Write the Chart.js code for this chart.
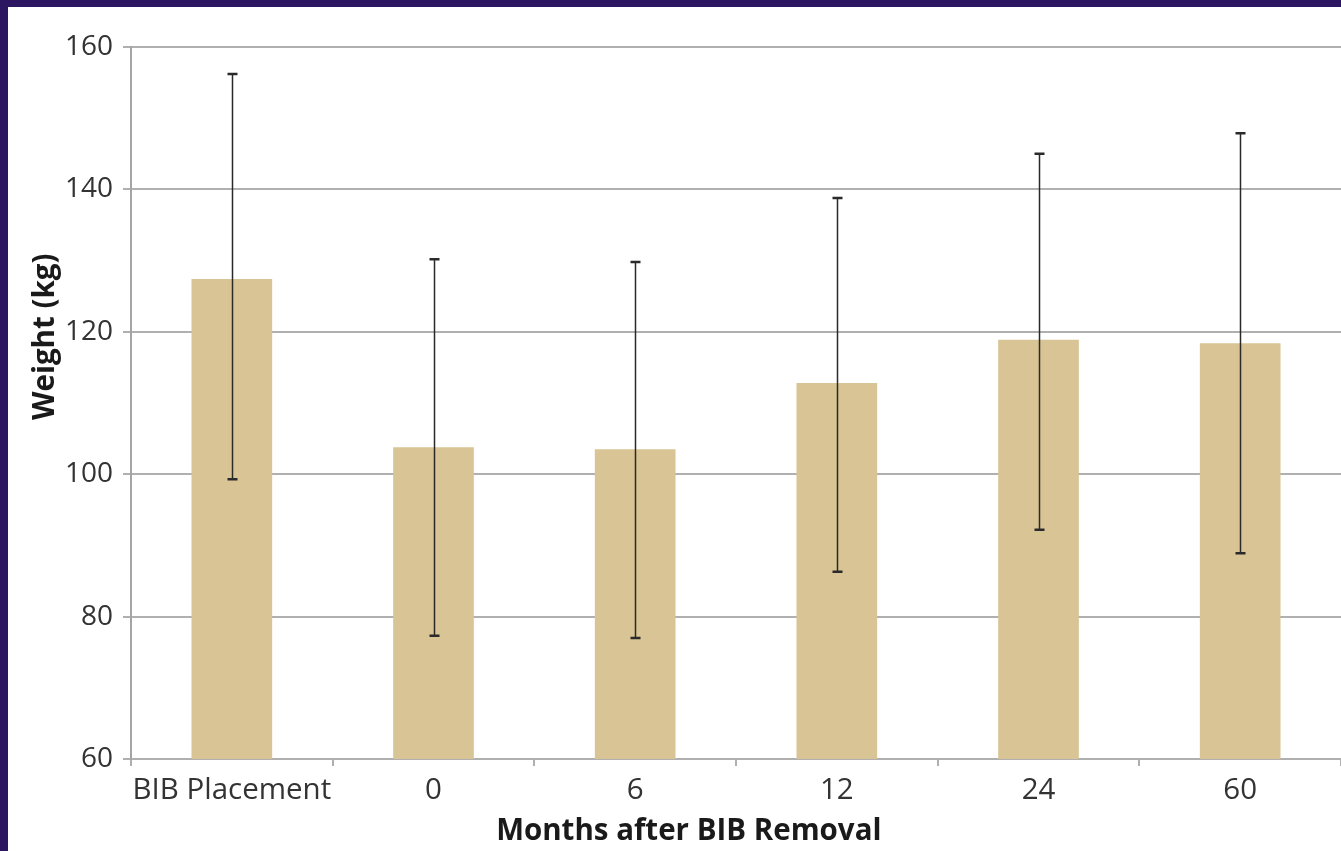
<!DOCTYPE html>
<html>
<head>
<meta charset="utf-8">
<script src="https://cdn.jsdelivr.net/npm/chart.js@4.4.1/dist/chart.umd.min.js"></script>
<style>
  html, body { margin: 0; padding: 0; background: #2c1561; width: 1341px; height: 851px; overflow: hidden; }
  #wrap { position: absolute; left: 8px; top: 7px; width: 1333px; height: 844px; background: #ffffff; }
  canvas { display: block; }
</style>
</head>
<body>
<div id="wrap"><canvas id="chart" width="1333" height="844"></canvas></div>
<script>
// Mean body weight with +/- SD range at each time point
const categories = ['BIB Placement', '0', '6', '12', '24', '60'];
const meanWeight = [127.4, 103.8, 103.5, 112.8, 118.9, 118.4];
const sdUpper    = [156.2, 130.2, 129.8, 138.8, 145.0, 147.9];
const sdLower    = [99.3, 77.3, 77.0, 86.3, 92.2, 88.9];
const yTicks     = [60, 80, 100, 120, 140, 160];

const xTitle = 'Months after BIB Removal';
const yTitle = 'Weight (kg)';

const FONT = "'Open Sans', 'Noto Sans', sans-serif";
const GRID = '#b0b0b0';

// Whisker lines drawn from the SD arrays through the y scale
const errorBars = {
  id: 'errorBars',
  afterDatasetsDraw(chart) {
    const ctx = chart.ctx;
    const y = chart.scales.y;
    const meta = chart.getDatasetMeta(0);
    ctx.save();
    ctx.strokeStyle = '#2a2a2a';
    meta.data.forEach((bar, i) => {
      const x = Math.round(bar.x) + 0.5;
      const yTop = y.getPixelForValue(sdUpper[i]);
      const yBot = y.getPixelForValue(sdLower[i]);
      ctx.lineWidth = 1.5;
      ctx.beginPath();
      ctx.moveTo(x, yTop);
      ctx.lineTo(x, yBot);
      ctx.stroke();
      ctx.lineWidth = 2.5;
      ctx.beginPath();
      ctx.moveTo(x - 5, yTop); ctx.lineTo(x + 5, yTop);
      ctx.moveTo(x - 5, yBot); ctx.lineTo(x + 5, yBot);
      ctx.stroke();
    });
    ctx.restore();
  }
};

// Axis titles, placed a little off-centre as in the printed figure
const axisTitles = {
  id: 'axisTitles',
  afterDraw(chart) {
    const ctx = chart.ctx;
    const area = chart.chartArea;
    ctx.save();
    ctx.fillStyle = '#1a1a1a';
    ctx.font = 'bold 29.5px ' + FONT;
    ctx.textAlign = 'center';
    ctx.textBaseline = 'middle';
    ctx.fillText(xTitle, area.left + area.width * 0.461, chart.height - 19);
    ctx.translate(38, area.top + area.height * 0.407);
    ctx.rotate(-Math.PI / 2);
    ctx.fillText(yTitle, 0, 0);
    ctx.restore();
  }
};

new Chart(document.getElementById('chart'), {
  type: 'bar',
  data: {
    labels: categories,
    datasets: [{
      data: meanWeight,
      backgroundColor: '#d8c494',
      borderWidth: 0,
      categoryPercentage: 1.0,
      barPercentage: 0.4
    }]
  },
  options: {
    responsive: false,
    animation: false,
    events: [],
    layout: { padding: { top: 40, left: 0, right: 0, bottom: 0 } },
    plugins: { legend: { display: false }, tooltip: { enabled: false } },
    scales: {
      x: {
        afterFit(scale) { scale.height = 92; },
        grid: { drawOnChartArea: false, drawTicks: true, tickLength: 7, color: GRID, lineWidth: 2, offset: true },
        border: { color: GRID, width: 2 },
        ticks: { color: '#333333', font: { family: FONT, size: 29.5 }, padding: 7, maxRotation: 0, autoSkip: false }
      },
      y: {
        min: 60, max: 160,
        afterFit(scale) { scale.width = 123; },
        afterBuildTicks(scale) { scale.ticks = yTicks.map(v => ({ value: v })); },
        grid: { color: GRID, lineWidth: 2, drawTicks: true, tickLength: 8 },
        border: { color: '#a5a5a5', width: 2 },
        ticks: { color: '#333333', font: { family: FONT, size: 28 }, padding: 10 }
      }
    }
  },
  plugins: [errorBars, axisTitles]
});
</script>
</body>
</html>
